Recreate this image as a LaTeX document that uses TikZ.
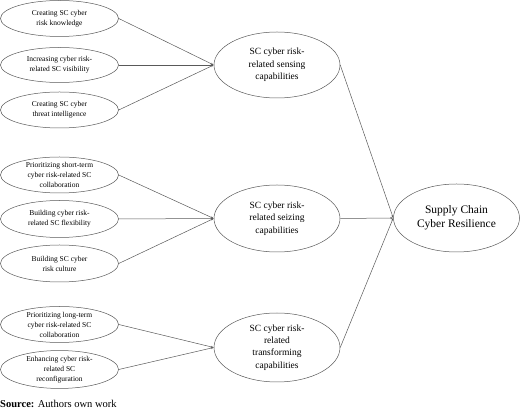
\documentclass[tikz,border=0pt]{standalone}
\usepackage{fontspec}
\setmainfont{Liberation Serif}
\usetikzlibrary{arrows.meta, shapes.geometric}

\begin{document}
\begin{tikzpicture}[x=1pt, y=-1pt]
\useasboundingbox (0, 0) rectangle (520, 411);

\begin{scope}[every node/.style={ellipse, draw=black!65, line width=0.5pt, inner sep=0pt, align=center}]
    \node (knowledge) at (59.5, 18.5) [minimum width=118pt, minimum height=36pt, font=\fontsize{7.5}{10}\selectfont] {Creating SC cyber\\risk knowledge};
    \node (visibility) at (59.5, 65) [minimum width=118pt, minimum height=35pt, font=\fontsize{7.5}{10}\selectfont] {Increasing cyber risk-\\related SC visibility};
    \node (intel) at (59.5, 110) [minimum width=118pt, minimum height=36pt, font=\fontsize{7.5}{10}\selectfont] {Creating SC cyber\\threat intelligence};

    \node (shortcollab) at (59.5, 175) [minimum width=118pt, minimum height=36pt, font=\fontsize{7.5}{10}\selectfont] {Prioritizing short-term\\cyber risk-related SC\\collaboration};
    \node (flex) at (59.5, 219) [minimum width=118pt, minimum height=37pt, font=\fontsize{7.5}{10}\selectfont] {Building cyber risk-\\related SC flexibility};
    \node (culture) at (59.5, 263.5) [minimum width=118pt, minimum height=37pt, font=\fontsize{7.5}{10}\selectfont] {Building SC cyber\\risk culture};

    \node (longcollab) at (59.5, 324.5) [minimum width=118pt, minimum height=36pt, font=\fontsize{7.5}{10}\selectfont] {Prioritizing long-term\\cyber risk-related SC\\collaboration};
    \node (reconfig) at (59.5, 369.5) [minimum width=118pt, minimum height=36pt, font=\fontsize{7.5}{10}\selectfont] {Enhancing cyber risk-\\related SC\\reconfiguration};

    \node (sensing) at (277, 65) [minimum width=126pt, minimum height=66pt, font=\fontsize{9.5}{12.3}\selectfont] {SC cyber risk-\\related sensing\\capabilities};
    \node (seizing) at (277, 218.5) [minimum width=126pt, minimum height=67pt, font=\fontsize{9.5}{12.3}\selectfont] {SC cyber risk-\\related seizing\\capabilities};
    \node (transform) at (277, 347.5) [minimum width=126pt, minimum height=69pt, font=\fontsize{9.5}{12.3}\selectfont] {SC cyber risk-\\related\\transforming\\capabilities};

    \node (resilience) at (456.5, 218) [minimum width=126pt, minimum height=68pt, font=\fontsize{11.5}{14.3}\selectfont] {Supply Chain\\Cyber Resilience};
\end{scope}

\node (source) at (0, 408) [anchor=base west, inner sep=0pt, font=\fontsize{10.5}{12}\selectfont] {\textbf{Source:} Authors own work};

\begin{scope}[>={Stealth[length=3pt, width=2pt]},
              every edge/.style={draw=black!65, line width=0.5pt}]
    \path [->] (knowledge.east) edge node {} (sensing.west);
    \path [->] (visibility.east) edge node {} (sensing.west);
    \path [->] (intel.east) edge node {} (sensing.west);

    \path [->] (shortcollab.east) edge node {} (seizing.west);
    \path [->] (flex.east) edge node {} (seizing.west);
    \path [->] (culture.east) edge node {} (seizing.west);

    \path [->] (longcollab.east) edge node {} (transform.west);
    \path [->] (reconfig.east) edge node {} (transform.west);

    \path [->] (sensing.east) edge node {} (resilience.west);
    \path [->] (seizing.east) edge node {} (resilience.west);
    \path [->] (transform.east) edge node {} (resilience.west);
\end{scope}
\end{tikzpicture}
\end{document}
